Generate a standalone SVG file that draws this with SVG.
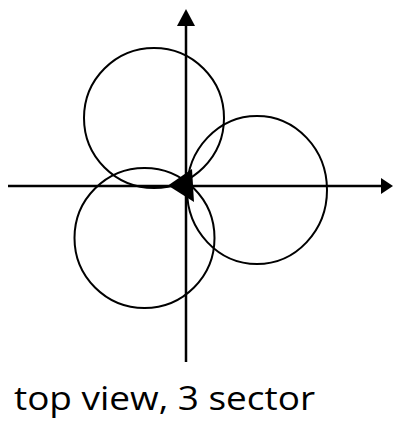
<svg xmlns="http://www.w3.org/2000/svg" width="394" height="421" viewBox="0 0 394 421">
  <style>
    .c { fill: none; stroke: #000; stroke-width: 2; }
    .ax { stroke: #000; stroke-width: 2.5; fill: none; }
    .head { fill: #000; stroke: none; }
    .lbl { font-family: "Open Sans", "Liberation Sans", sans-serif; font-size: 33px; fill: #000; }
  </style>
  <rect width="394" height="421" fill="#fff"/>
  <g id="sector-top"><circle class="c" cx="154" cy="118" r="70"/></g>
  <g id="sector-right"><ellipse class="c" cx="257" cy="190" rx="70" ry="74"/></g>
  <g id="sector-bottom"><circle class="c" cx="144.5" cy="238" r="70"/></g>
  <g id="connectors">
    <line class="ax" x1="8" y1="186" x2="382" y2="186"/>
    <polygon class="head" points="393,186 381,178 381,194"/>
    <line class="ax" x1="186" y1="25" x2="186" y2="362"/>
    <polygon class="head" points="186,9 177,26 195,26"/>
    <polygon class="head" points="168,185.5 192,169 194,202"/>
  </g>
  <text class="lbl" x="14" y="410" textLength="301" lengthAdjust="spacingAndGlyphs">top view, 3 sector</text>
</svg>
